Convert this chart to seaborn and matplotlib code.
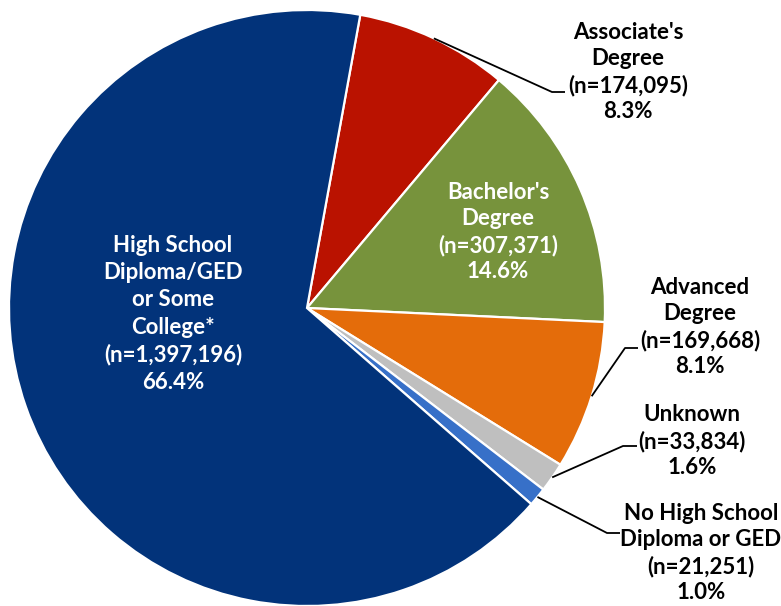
import numpy as np
import seaborn as sns
import matplotlib.pyplot as plt

# Education level breakdown (clockwise from the red slice)
categories = ["Associate's\nDegree", "Bachelor's\nDegree", "Advanced\nDegree", "Unknown",
              "No High School\nDiploma or GED", "High School\nDiploma/GED\nor Some\nCollege*"]
counts = [174095, 307371, 169668, 33834, 21251, 1397196]
percents = [8.3, 14.6, 8.1, 1.6, 1.0, 66.4]
colors = ["#BA1200", "#77933C", "#E46C0A", "#BFBFBF", "#3770C8", "#02337A"]

sns.set_theme(style="white")
plt.rcParams['font.family'] = ['Lato', 'DejaVu Sans']

W, H = 781, 606
CX, CY, R = 307, 308, 298


def px(x, y):
    # pixel position -> data coords (pie of radius 1 at origin)
    return (x - CX) / R, (CY - y) / R


fig = plt.figure(figsize=(W / 100, H / 100), dpi=100)
ax = fig.add_axes([0, 0, 1, 1])
wedges, _ = ax.pie(counts, colors=colors, startangle=79.7, counterclock=False, radius=1,
                   wedgeprops=dict(edgecolor="white", linewidth=1.6))
ax.set_xlim(-CX / R, (W - CX) / R)
ax.set_ylim(-(H - CY) / R, CY / R)
ax.set_aspect('auto')
ax.axis('off')

labels = [f"{c}\n(n={n:,})\n{p:.1f}%" for c, n, p in zip(categories, counts, percents)]

# label centres, text colour, line spacing, leader elbow/end (pixels)
layout = [
    ((628, 72), "black", 1.3, [(552, 92), (565, 92)]),
    ((498, 232), "white", 1.3, None),
    ((700, 327), "black", 1.3, [(625, 348), (638, 348)]),
    ((692, 441), "black", 1.3, [(623, 446), (637, 446)]),
    ((701, 553), "black", 1.3, [(607, 533), (620, 533)]),
    ((173, 314), "white", 1.36, None),
]

for w, lab, (pos, col, ls, leader) in zip(wedges, labels, layout):
    x, y = px(*pos)
    ax.text(x, y, lab, ha="center", va="center", color=col, fontsize=16,
            fontweight="bold", linespacing=ls)
    if leader:
        mid = np.deg2rad((w.theta1 + w.theta2) / 2)
        pts = [(np.cos(mid), np.sin(mid))] + [px(*p) for p in leader]
        xs, ys = zip(*pts)
        ax.plot(xs, ys, color="black", lw=1.3, solid_capstyle="butt")

fig.savefig("out.png", dpi=100)
